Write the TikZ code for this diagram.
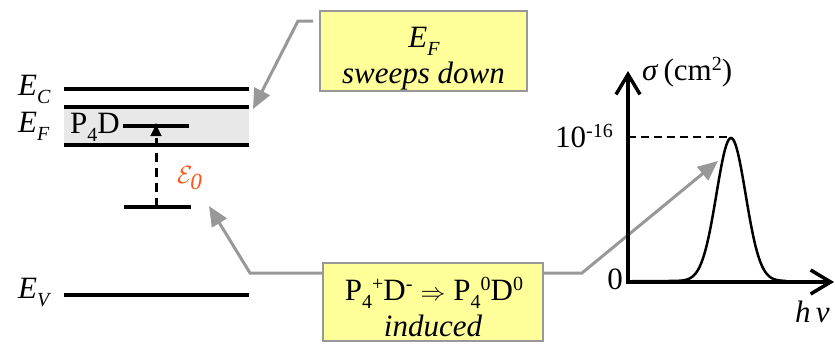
\documentclass[tikz,border=0pt]{standalone}
\usepackage{fontspec}
\setmainfont{Liberation Serif}
\usetikzlibrary{arrows.meta}
\definecolor{boxyellow}{RGB}{255,255,153}
\definecolor{boxgrey}{RGB}{152,152,152}
\definecolor{bandgrey}{RGB}{232,232,232}
\definecolor{epsorange}{RGB}{255,85,20}
\newcommand\lowsub[1]{\raisebox{-0.27em}{\fontsize{20}{20}\selectfont #1}}
\newcommand\upsup[1]{\raisebox{0.32em}{\fontsize{20}{20}\selectfont #1}}
\begin{document}
\begin{tikzpicture}[x=1pt,y=-1pt,
  font=\fontsize{31}{36}\selectfont,
  level/.style={line width=3.5pt},
  lbl/.style={inner sep=0pt, anchor=base west},
  txt/.style={inner sep=0pt, anchor=base},
  note/.style={draw=boxgrey, line width=2.2pt, fill=boxyellow, inner sep=0pt},
  callout/.style={draw=boxgrey, line width=3pt, -{Triangle[length=20pt,width=17pt]}},
  axis/.style={line width=3.5pt, -{Straight Barb[length=20pt,width=24pt]}}]
\useasboundingbox (0,0) rectangle (835,343);
% band and levels
\fill[bandgrey] (64,107) rectangle (249,145);
\draw[level] (64,89) -- (249,89);
\draw[level] (64,107) -- (249,107);
\draw[level] (64,145) -- (249,145);
\draw[level] (64,295) -- (249,295);
\draw[level] (123,126) -- (189,126);
\draw[level] (124,207) -- (191,207);
\coordinate (lowlev) at (156,207);
\coordinate (p4dlev) at (156,122);
\draw[line width=3pt, dash pattern=on 9pt off 6pt, -{Latex[length=14pt,width=12pt]}] (lowlev) -- (p4dlev);
% labels
\node[lbl] (ec) at (18,95) {\textit{E}\lowsub{\textit{C}}};
\node[lbl] (ef) at (18,132) {\textit{E}\lowsub{\textit{F}}};
\node[lbl] (ev) at (18,298) {\textit{E}\lowsub{\textit{V}}};
\node[lbl] (p4d) at (70,133) {P\lowsub{4}D};
\node[lbl, text=epsorange, font=\fontsize{33}{36}\selectfont] (eps) at (177,183) {$\mathcal{E}_{\mathit{0}}$};
% notes
\node[note, minimum width=207pt, minimum height=80pt] (b1) at (423.5,51) {};
\node[txt] (b1a) at (424,47) {\textit{E}\smash{\lowsub{\textit{F}}}};
\node[txt] (b1b) at (423.5,83) {\textit{sweeps down}};
\node[note, minimum width=220pt, minimum height=78pt] (b2) at (433,302) {};
\node[txt] (b2a) at (434,300) {P\lowsub{4}\upsup{+}D\upsup{-}\hspace{8pt}$\Rightarrow$\hspace{8pt}P\lowsub{4}\upsup{0}D\upsup{0}};
\node[txt] (b2b) at (433,336) {\textit{induced}};
% callouts
\coordinate (c1s) at (313,21);
\coordinate (c1k) at (298,21);
\coordinate (c1t) at (253,109);
\draw[callout] (c1s) -- (c1k) -- (c1t);
\coordinate (c2k) at (250,273);
\coordinate (c2t) at (209,206);
\draw[callout] (b2.west |- c2k) -- (c2k) -- (c2t);
\coordinate (c3k) at (582,273);
\coordinate (c3t) at (718,161);
\draw[callout] (b2.east |- c3k) -- (c3k) -- (c3t);
% graph
\coordinate (ytop) at (628,71);
\coordinate (xend) at (834,282);
\draw[axis] (628,284) -- (ytop);
\draw[axis] (626.5,282) -- (xend);
\draw[line width=2.2pt, dash pattern=on 8pt off 5pt] (628,137) -- (731,137);
\draw[line width=2.5pt] plot[domain=632:786, samples=160, smooth] (\x, {281-143*exp(-((\x-731)/14.6)^2/2)});
\node[lbl] (sig) at (642,80) {\textit{σ}\,(cm\upsup{2})};
\node[inner sep=0pt, anchor=base east] (ten) at (613,147) {10\upsup{-16}};
\node[inner sep=0pt, anchor=base east] (zero) at (623,289) {0};
\node[lbl] (hnu) at (795,322) {\textit{h}\,\textit{ν}};
\end{tikzpicture}
\end{document}
